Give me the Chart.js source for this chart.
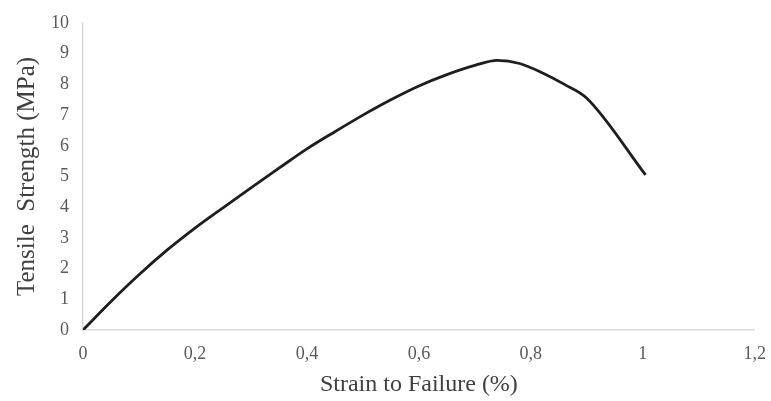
<!DOCTYPE html>
<html>
<head>
<meta charset="utf-8">
<script src="https://cdn.jsdelivr.net/npm/chart.js@4/dist/chart.umd.min.js"></script>
<style>
    html, body { margin: 0; padding: 0; background: #ffffff; }
    #wrap { width: 771px; height: 401px; position: relative; }
</style>
</head>
<body>
<div id="wrap"><canvas id="chart"></canvas></div>
<script>
// strain (%) and stress (MPa)
const strain = [0, 0.05, 0.1, 0.15, 0.2, 0.25, 0.3, 0.35, 0.4, 0.45, 0.5, 0.55, 0.6, 0.65, 0.7, 0.74, 0.78, 0.82, 0.86, 0.9, 1.005];
const stress = [0, 0.93, 1.8, 2.6, 3.32, 3.98, 4.63, 5.27, 5.9, 6.46, 7.0, 7.5, 7.95, 8.32, 8.62, 8.78, 8.68, 8.38, 8.0, 7.55, 5.05];

const xTickValues = [0, 0.2, 0.4, 0.6, 0.8, 1, 1.2];
const xTickLabels = ["0", "0,2", "0,4", "0,6", "0,8", "1", "1,2"];
const yTickValues = [0, 1, 2, 3, 4, 5, 6, 7, 8, 9, 10];
const yTickLabels = ["0", "1", "2", "3", "4", "5", "6", "7", "8", "9", "10"];

const serif = "'Liberation Serif', 'Times New Roman', serif";

let points = strain.map((s, i) => ({ x: s, y: stress[i] }));

new Chart("chart", {
    type: "scatter",
    data: {
        datasets: [{
            data: points,
            showLine: true,
            borderColor: "#1e1e1e",
            borderWidth: 2.8,
            pointRadius: 0,
            cubicInterpolationMode: "monotone",
            fill: false
        }]
    },
    options: {
        responsive: true,
        maintainAspectRatio: false,
        animation: false,
        layout: { padding: { top: 23, right: 15, bottom: 0, left: 0 } },
        plugins: {
            legend: { display: false },
            tooltip: { enabled: false }
        },
        scales: {
            x: {
                type: "linear",
                min: 0,
                max: 1.2,
                afterBuildTicks: (axis) => { axis.ticks = xTickValues.map(v => ({ value: v })); },
                afterFit: (axis) => { axis.height = 71; },
                grid: { display: false },
                border: { display: true, color: "#d9d9d9", width: 1.5 },
                ticks: {
                    color: "#595959",
                    font: { family: serif, size: 18 },
                    padding: 5,
                    maxRotation: 0,
                    callback: (v, i) => xTickLabels[i]
                },
                title: {
                    display: true,
                    text: "Strain to Failure (%)",
                    color: "#404040",
                    font: { family: serif, size: 24 },
                    padding: { top: 0, bottom: 2 }
                }
            },
            y: {
                type: "linear",
                min: 0,
                max: 10,
                afterBuildTicks: (axis) => { axis.ticks = yTickValues.map(v => ({ value: v })); },
                afterFit: (axis) => { axis.width = 83; },
                grid: { display: false },
                border: { display: true, color: "#d9d9d9", width: 1.5 },
                ticks: {
                    color: "#595959",
                    font: { family: serif, size: 18 },
                    padding: 6,
                    callback: (v, i) => yTickLabels[i]
                },
                title: {
                    display: true,
                    text: "Tensile  Strength (MPa)",
                    color: "#404040",
                    font: { family: serif, size: 25 },
                    padding: { top: 12, bottom: 0 }
                }
            }
        }
    }
});
</script>
</body>
</html>
